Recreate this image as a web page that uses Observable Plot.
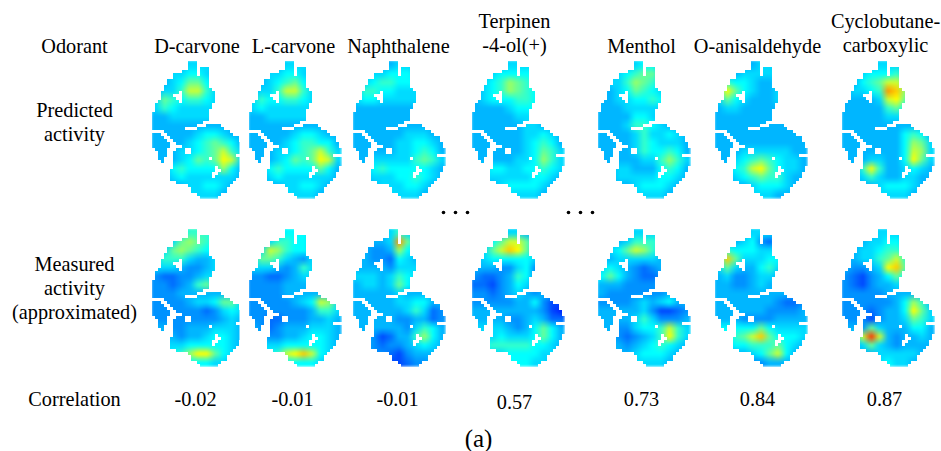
<!DOCTYPE html>
<html><head><meta charset="utf-8">
<script src="https://cdn.jsdelivr.net/npm/d3@7"></script>
<script src="https://cdn.jsdelivr.net/npm/@observablehq/plot@0.6"></script>
<style>html,body{margin:0;padding:0;background:#fff}svg{display:block}
.field image{filter:blur(1.2px)}
.outline image{filter:blur(0.4px)}
</style>
</head><body><div id="chart"></div>
<script>
const odorants = ["D-carvone","L-carvone","Naphthalene","Terpinen\n-4-ol(+)","Menthol","O-anisaldehyde","Cyclobutane-\ncarboxylic"];
const correlations = ["-0.02","-0.01","-0.01","0.57","0.73","0.84","0.87"];
const rowLabels = ["Odorant","Predicted\nactivity","Measured\nactivity\n(approximated)","Correlation"];

// Activity: one hex digit per coarse grid cell
const predicted = [
["44445555444","44556654444","44568865444","4557aa75444","58767765544","57655555544","44555555444","44444444444","44444566544","44445678764","44455678a75","44456878ba5","44676666964","44565555554","44445566544","44445555444"],
["44445555444","44556654444","44567865444","4557aa75444","57667765544","56555555544","44555555444","44444444444","44444566544","44445677664","44455678a75","44456878ba5","44676666864","44565555554","44445566544","44445555444"],
["44444554444","44556665444","45677666544","57766555544","56655555544","44444444444","44444444444","44444444444","44444455544","44444556654","44444556764","44555557875","45676666654","44555667654","44455566544","44445555444"],
["44445555444","44566666544","45679876544","45679876544","45666776544","44445666544","44444555444","44444455444","44444455654","44444456764","44444456875","44444556975","55665566765","45555556654","44456666544","44445555444"],
["44445664444","44567885444","45579875444","44568765444","44556676544","44455555444","44446654444","44457765444","44445755654","44445765554","44445766764","44444557975","44554446764","44555556654","44445666544","44445555444"],
["44444554444","44455555444","47665445544","7b865445544","58654445544","45544444444","44444444444","44444444444","44444444444","44444444444","44455555544","44567876554","4567ab86554","44567877544","44445666544","44445554444"],
["44445554444","44566675444","44678aa8544","45567dc9544","44445ab8444","44444786444","44444555444","44444444444","44444446764","44444446985","44444446a95","44455446b85","447b7445654","44575445544","44445666544","44445555444"]
];
const measured = [
["44457776544","44589876544","45898766544","57775445544","55543345544","32233455444","33234785444","33344444444","33334556885","33333323565","33333333454","44334445554","44434456654","55556666654","55679bb8654","55556665544"],
["44456665544","44577665544","45a97665544","58875435544","55543475444","33223455444","33334444444","33334444444","33333456a95","33333334775","33223334454","43234445554","44334456654","55556666654","5567abca654","55556666544"],
["44445754444","44445d85444","44334965444","44332654444","44443555444","55545765444","45545864444","44444544444","44444556644","44444457523","44444334423","44444435764","44312447964","44323345654","44332134444","44331123344"],
["44445543444","4468aa85444","458acb84344","45666665244","44433563144","32234763244","22134653444","33234543444","33333446311","44444444310","44443345422","55554346864","55565556864","66777776654","55556666554","55556665544"],
["44445555444","44457776444","4568a975444","44555554444","56543234444","68643223444","44433334444","43333333444","33334545644","44444531123","44445753334","44335667a75","44323457b75","44434567654","55445666544","44445555444"],
["44445554444","44456324444","47666555444","7c855566444","58544675444","45334554444","44334544444","44444444444","44444443223","44444433334","44433334444","66666865555","6678ac86665","55667778654","4444568a644","44443344444"],
["44445554444","44455665444","44556776444","445578a7544","43345bc8444","32134686444","32134454444","33333444444","33333346974","33323446b85","33313445875","44385444664","45afa434454","44585434444","44445555544","44445655444"]
];

// Outline of the map: for each row of the fine grid, the runs of filled columns
const maskRuns = [
[[12,14]],[[12,14]],[[12,14],[16,18]],[[10,14],[16,18]],[[7,14],[16,18]],[[7,18]],[[5,18]],[[5,18]],[[4,18]],[[4,19]],
[[3,8],[10,20]],[[3,6],[10,20]],[[3,7],[10,20]],[[2,8],[10,20]],[[1,19]],[[1,19]],[[1,18]],[[0,18]],[[0,18]],[[0,18]],
[[0,16]],[[0,14],[18,22]],[[0,10],[15,23]],[[4,25]],[[0,2],[5,26]],[[0,3],[6,28]],[[0,4],[7,28]],[[0,5],[8,29]],[[0,5],[10,29]],[[1,4],[8,10],[13,30]],
[[2,4],[7,10],[13,30]],[[2,4],[7,27]],[[2,3],[7,18],[20,30]],[[3,3],[7,30]],[[7,30]],[[7,20],[22,29]],[[6,20],[23,29]],[[6,19],[22,28]],[[6,19],[21,28]],[[6,27]],
[[8,26]],[[12,25]],[[13,24]],[[13,24]],[[15,22]],[[16,21]]
];

const gridCols = 11, gridRows = 16, maskCols = 31;
const mapLeft = [151,248,352,471,597,714,841];
const rowTop = [60,228];
const cellSize = 3;
const columnCenter = [196.5,293,398,514,641,757,885];
const headerY = [45,45,45,32,45,45,32];
const corrX = [195,292,397,514,641,757,884];
const corrY = [398,398,398,401,398,398,398];
const labelY = [45,121,287,398];
const dotsX = [443,455,467,568,580,592];

// The mask gets padding on all sides so it hides the raster's edge
const pad = 3;
const maskValues = [];
const blankRow = Array(maskCols + 2 * pad).fill(1);
for (let k = 0; k < pad; ++k) maskValues.push(...blankRow);
for (const runs of maskRuns) {
  for (let k = 0; k < pad; ++k) maskValues.push(1);
  for (let c = 0; c < maskCols; ++c) maskValues.push(runs.some(([a,b]) => c >= a && c <= b) ? 0 : 1);
  for (let k = 0; k < pad; ++k) maskValues.push(1);
}
for (let k = 0; k < pad; ++k) maskValues.push(...blankRow);

const mapW = maskCols * cellSize, mapH = maskRuns.length * cellSize;
const marks = [];
[predicted, measured].forEach((group, r) => group.forEach((grid, i) => {
  const values = Array.from(grid.join(""), ch => parseInt(ch, 16));
  const x1 = mapLeft[i], y1 = rowTop[r];
  marks.push(Plot.raster(values, {x1, x2: x1 + mapW, y1, y2: y1 + mapH, width: gridCols, height: gridRows, fill: d => d, imageRendering: "auto", className: "field"}));
  marks.push(Plot.raster(maskValues, {x1: x1 - pad * cellSize, x2: x1 + mapW + pad * cellSize, y1: y1 - pad * cellSize, y2: y1 + mapH + pad * cellSize, width: maskCols + 2 * pad, height: maskRuns.length + 2 * pad, fill: "white", fillOpacity: d => d, imageRendering: "pixelated", className: "outline"}));
}));

const serif = {fontFamily: "Liberation Serif", fontSize: 20.3, fill: "black", lineHeight: 1.18};
const textData = [
  ...odorants.map((t,i) => ({t, x: columnCenter[i], y: headerY[i]})),
  ...correlations.map((t,i) => ({t, x: corrX[i], y: corrY[i]})),
  ...rowLabels.map((t,i) => ({t, x: 74, y: labelY[i]}))
];
marks.push(Plot.text(textData, {x: "x", y: "y", text: "t", ...serif}));
marks.push(Plot.text(["(a)"], {x: () => 478, y: () => 437, text: d => d, ...serif, fontSize: 25}));
marks.push(Plot.dot(dotsX, {x: d => d, y: () => 212, r: 1.8, fill: "black", stroke: "none"}));

const plot = Plot.plot({
  width: 941, height: 451, margin: 0,
  x: {domain: [0,941], range: [0,941], axis: null},
  y: {domain: [0,451], range: [0,451], axis: null},
  r: {type: "identity"},
  color: {type: "linear", domain: [-1,6,11,16], range: ["#0000ff","#00ffff","#ffff00","#ff0000"], clamp: true},
  style: {background: "white"},
  marks
});
document.getElementById("chart").append(plot);
</script></body></html>
